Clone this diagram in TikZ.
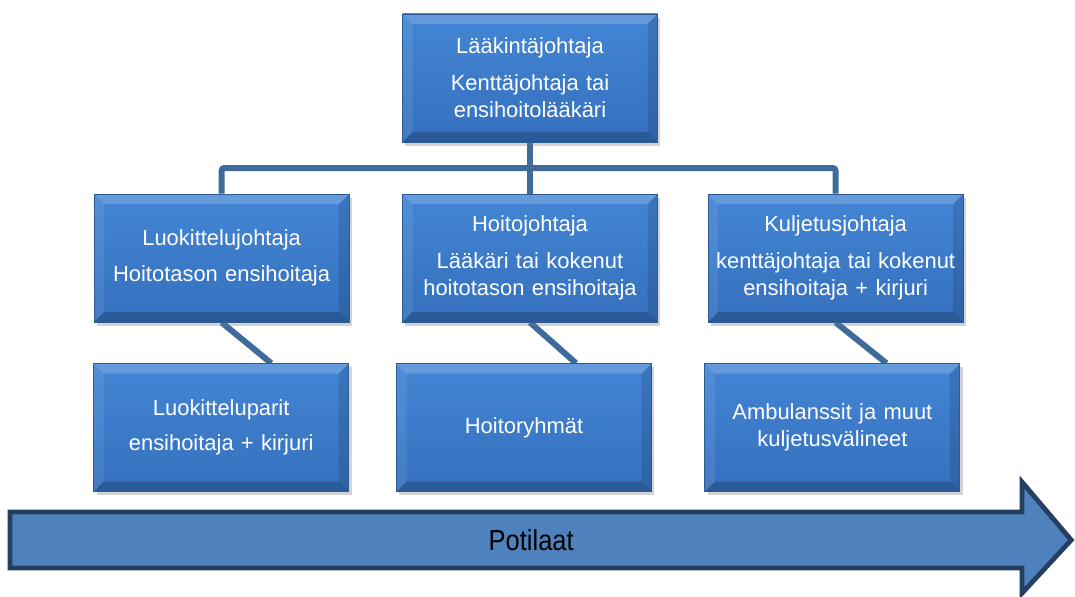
\documentclass[tikz,border=0pt]{standalone}
\usepackage{fontspec}
\setmainfont{Liberation Sans}
\newfontfamily\kapea[FakeStretch=0.88]{Liberation Sans}
\usetikzlibrary{shadows,backgrounds}
\definecolor{laatikkoyla}{HTML}{4386D5}
\definecolor{laatikkoala}{HTML}{3570BD}
\definecolor{laatikkoreuna}{HTML}{2D5C95}
\definecolor{viiva}{HTML}{3E6A9C}
\definecolor{nuolitayte}{HTML}{4F81BD}
\definecolor{nuolireuna}{HTML}{253F62}

\begin{document}
\begin{tikzpicture}[line width=1pt,
  laatikko/.style={rectangle,minimum width=6.375cm,minimum height=3.2cm,text width=6.1cm,
    align=center,text=white,font=\fontsize{15.6}{19.2}\selectfont,
    draw=laatikkoreuna,line width=0.6pt,top color=laatikkoyla,bottom color=laatikkoala,
    drop shadow={shadow xshift=2pt,shadow yshift=-2.5pt,opacity=0.35},
    path picture={
      \fill[white,opacity=0.18] (path picture bounding box.north west) -- (path picture bounding box.north east)
        -- ([shift={(-0.25,-0.25)}]path picture bounding box.north east) -- ([shift={(0.25,-0.25)}]path picture bounding box.north west) -- cycle;
      \fill[white,opacity=0.08] (path picture bounding box.north west) -- (path picture bounding box.south west)
        -- ([shift={(0.25,0.25)}]path picture bounding box.south west) -- ([shift={(0.25,-0.25)}]path picture bounding box.north west) -- cycle;
      \fill[black,opacity=0.2] (path picture bounding box.south west) -- (path picture bounding box.south east)
        -- ([shift={(-0.25,0.25)}]path picture bounding box.south east) -- ([shift={(0.25,0.25)}]path picture bounding box.south west) -- cycle;
      \fill[black,opacity=0.12] (path picture bounding box.north east) -- (path picture bounding box.south east)
        -- ([shift={(-0.25,0.25)}]path picture bounding box.south east) -- ([shift={(-0.25,-0.25)}]path picture bounding box.north east) -- cycle;
    }},
  yhteys/.style={draw=viiva,line width=0.15cm}]
  \useasboundingbox (0,0) rectangle (26.875,-14.925);
  % ylin johtaja
  \node[laatikko] (johto) at (13.25,-1.95) {L\"a\"akint\"ajohtaja\\[7pt]Kentt\"ajohtaja tai\\ensihoitol\"a\"ak\"ari};
  % keskimmainen rivi
  \node[laatikko] (luok) at (5.54,-6.45) {Luokittelujohtaja\\[6pt]Hoitotason ensihoitaja};
  \node[laatikko] (hoito) at (13.25,-6.45) {Hoitojohtaja\\[7pt]L\"a\"ak\"ari tai kokenut\\hoitotason ensihoitaja};
  \node[laatikko] (kulj) at (20.89,-6.45) {Kuljetusjohtaja\\[7pt]kentt\"ajohtaja tai kokenut\\ensihoitaja + kirjuri};
  % alin rivi
  \node[laatikko] (luokpar) at (5.53,-10.69) {Luokitteluparit\\[6pt]ensihoitaja + kirjuri};
  \node[laatikko] (ryhmat) at (13.1,-10.69) {Hoitoryhm\"at};
  \node[laatikko] (ambu) at (20.81,-10.69) {Ambulanssit ja muut\\kuljetusv\"alineet};
  % yhteydet
  \coordinate (haara) at (13.25,-4.2);
  \begin{scope}[on background layer]
    \draw[yhteys] (johto.south) -- (haara);
    \draw[yhteys,rounded corners=2pt] (luok.north) |- (haara) -| (kulj.north);
    \draw[yhteys] (haara) -- (hoito.north);
    \draw[yhteys] (luok.south) -- ([xshift=1.25cm]luokpar.north);
    \draw[yhteys] (hoito.south) -- ([xshift=1.3cm]ryhmat.north);
    \draw[yhteys] (kulj.south) -- ([xshift=1.35cm]ambu.north);
  \end{scope}
  % potilaat-nuoli
  \draw[fill=nuolitayte,draw=nuolireuna,line width=0.12cm,line join=miter]
    (0.25,-12.8) -- (25.55,-12.8) -- (25.55,-12.05) -- (26.78,-13.5) -- (25.55,-14.83)
    -- (25.55,-14.2) -- (0.25,-14.2) -- cycle;
  \node[font=\kapea\fontsize{20.6}{24}\selectfont] (potilaat) at (13.28,-13.5) {Potilaat};
\end{tikzpicture}
\end{document}
